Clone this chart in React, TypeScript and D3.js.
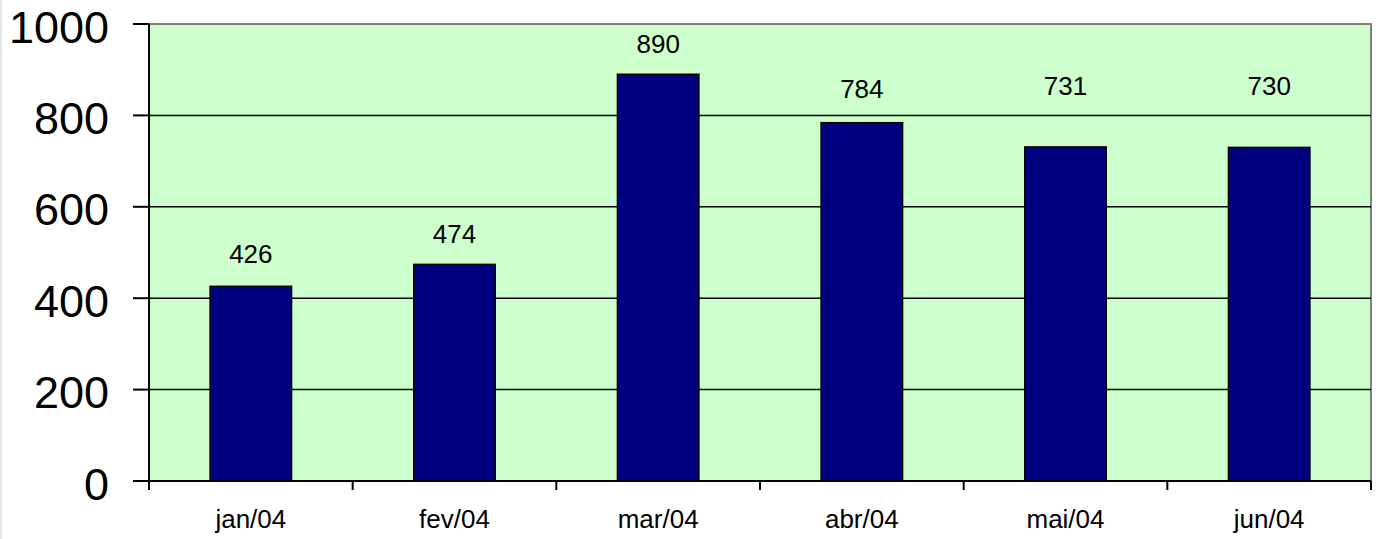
import { scaleBand, scaleLinear } from "d3";

const months = ["jan/04", "fev/04", "mar/04", "abr/04", "mai/04", "jun/04"];
const values = [426, 474, 890, 784, 731, 730];
const yTicks = [0, 200, 400, 600, 800, 1000];

// the value labels sit at hand-placed heights above their bars (px)
const labelGaps = [23, 21, 21, 25, 52, 52];

const width = 1376;
const height = 539;
const plotLeft = 149;
const plotRight = 1371;
const plotTop = 24;
const plotBottom = 481;
const font = "Arial, 'Liberation Sans', sans-serif";

function App() {
  const x = scaleBand<string>()
    .domain(months)
    .range([plotLeft, plotRight])
    .paddingInner(0.6)
    .paddingOuter(0.3);
  const y = scaleLinear().domain([0, 1000]).range([plotBottom, plotTop]);
  const step = x.step();
  const boundaries = months.map((_, i) => plotLeft + i * step).concat([plotRight]);

  return (
    <div style={{ position: "fixed", left: 0, top: 0 }}>
      <svg width={width} height={height} style={{ display: "block", background: "#fff" }}>
        <line x1={1} x2={1} y1={0} y2={height} stroke="#e4e4e4" strokeWidth={2} />
        <rect
          x={plotLeft}
          y={plotTop}
          width={plotRight - plotLeft}
          height={plotBottom - plotTop}
          fill="#ccffcc"
          stroke="#808080"
          strokeWidth={2}
        />
        {yTicks
          .filter((t) => t > 0 && t < 1000)
          .map((t) => (
            <line key={t} x1={plotLeft} x2={plotRight} y1={y(t)} y2={y(t)} stroke="#000" strokeWidth={1.5} />
          ))}
        {values.map((v, i) => (
          <g key={months[i]}>
            <rect
              x={x(months[i])}
              y={y(v)}
              width={x.bandwidth()}
              height={plotBottom - y(v)}
              fill="#000080"
              stroke="#000"
              strokeWidth={1.5}
            />
            <text
              x={(x(months[i]) ?? 0) + x.bandwidth() / 2}
              y={y(v) - labelGaps[i]}
              textAnchor="middle"
              fontFamily={font}
              fontSize={26}
              fill="#000"
            >
              {v}
            </text>
          </g>
        ))}
        <line x1={plotLeft} x2={plotLeft} y1={plotTop} y2={plotBottom} stroke="#000" strokeWidth={2} />
        <line x1={plotLeft} x2={plotRight} y1={plotBottom} y2={plotBottom} stroke="#000" strokeWidth={2} />
        {yTicks.map((t) => (
          <g key={t}>
            <line x1={plotLeft - 16} x2={plotLeft} y1={y(t)} y2={y(t)} stroke="#000" strokeWidth={2} />
            <text
              x={109}
              y={y(t) + 18.5}
              textAnchor="end"
              fontFamily={font}
              fontSize={45}
              fill="#000"
            >
              {t}
            </text>
          </g>
        ))}
        {boundaries.map((bx, i) => (
          <line key={i} x1={bx} x2={bx} y1={plotBottom} y2={plotBottom + 9} stroke="#000" strokeWidth={2} />
        ))}
        {months.map((m) => (
          <text
            key={m}
            x={(x(m) ?? 0) + x.bandwidth() / 2}
            y={528}
            textAnchor="middle"
            fontFamily={font}
            fontSize={26}
            fill="#000"
          >
            {m}
          </text>
        ))}
      </svg>
    </div>
  );
}

export default App;
